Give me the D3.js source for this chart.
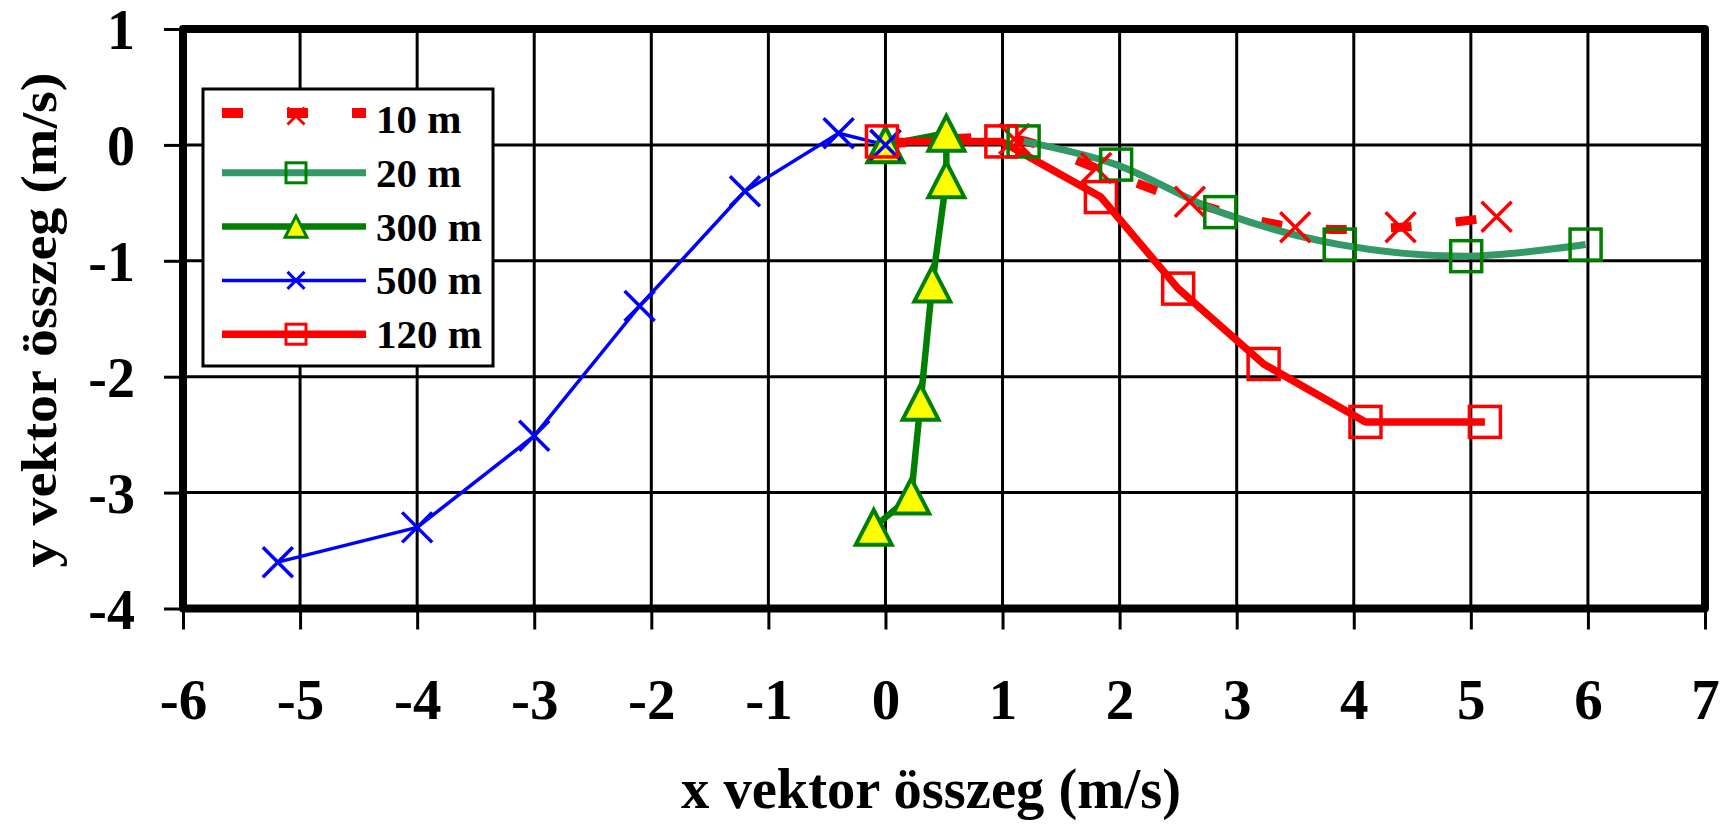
<!DOCTYPE html>
<html><head><meta charset="utf-8">
<script src="https://cdn.jsdelivr.net/npm/d3@7"></script>
<style>
body{margin:0;background:#fff}
svg{display:block}
text{font-family:"Liberation Serif","Times New Roman",serif;font-weight:bold;fill:#000}
</style>
</head><body>
<svg id="chart" width="1727" height="831"></svg>
<script>
// ---- data ----
const seriesNames = ["10 m", "20 m", "300 m", "500 m", "120 m"];
const xTickValues = [-6, -5, -4, -3, -2, -1, 0, 1, 2, 3, 4, 5, 6, 7];
const yTickValues = [-4, -3, -2, -1, 0, 1];
const xTitle = "x vektor összeg (m/s)";
const yTitle = "y vektor összeg (m/s)";

const x10 = [0, 1.1, 1.8, 2.6, 3.5, 4.4, 5.22];
const y10 = [0, 0.05, -0.2, -0.49, -0.71, -0.71, -0.62];
const x20 = [1.18, 1.97, 2.86, 3.88, 4.96, 5.98];
const y20 = [0.03, -0.17, -0.58, -0.86, -0.96, -0.86];
const x300 = [0, 0.52, 0.52, 0.4, 0.3, 0.22, -0.1];
const y300 = [0, 0.1, -0.3, -1.2, -2.22, -3.03, -3.3];
const x500 = [-5.19, -4.0, -3.0, -2.1, -1.2, -0.4, 0];
const y500 = [-3.6, -3.3, -2.51, -1.39, -0.4, 0.1, 0];
const x120 = [-0.03, 0.99, 1.84, 2.5, 3.23, 4.1, 5.12];
const y120 = [0.03, 0.03, -0.45, -1.24, -1.89, -2.39, -2.39];

// ---- styles ----
const styles = [
  {xs: x10,  ys: y10,  color: "#ff0000", width: 9,   dash: "21,44", marker: "x",   mColor: "#ff0000", fill: "none", smooth: true},
  {xs: x20,  ys: y20,  color: "#339966", width: 7,   dash: null,    marker: "sq",  mColor: "#008000", fill: "none", smooth: true},
  {xs: x300, ys: y300, color: "#008000", width: 6.5, dash: null,    marker: "tri", mColor: "#008000", fill: "#ffff00", smooth: false},
  {xs: x500, ys: y500, color: "#0000ff", width: 3.5, dash: null,    marker: "x",   mColor: "#0000ff", fill: "none", smooth: false},
  {xs: x120, ys: y120, color: "#ff0000", width: 7.5, dash: null,    marker: "sq",  mColor: "#ff0000", fill: "none", smooth: false}
];

const svg = d3.select("#chart");
svg.append("rect").attr("width", 1727).attr("height", 831).attr("fill", "#fff");

const L = 183, R = 1705, T = 29, B = 608.5;
const x = d3.scaleLinear().domain([-6, 7]).range([L, R]);
const y = d3.scaleLinear().domain([-4, 1]).range([B, T]);

// gridlines
const grid = svg.append("g");
grid.selectAll(".vg").data(xTickValues).join("line")
  .attr("x1", d => x(d)).attr("x2", d => x(d)).attr("y1", T).attr("y2", B)
  .attr("stroke", "#000").attr("stroke-width", 3);
grid.selectAll(".hg").data(yTickValues).join("line")
  .attr("x1", L).attr("x2", R).attr("y1", d => y(d)).attr("y2", d => y(d))
  .attr("stroke", "#000").attr("stroke-width", 3);

// axes
const xAxis = svg.append("g").attr("transform", `translate(0,${B})`)
  .call(d3.axisBottom(x).tickValues(xTickValues).tickSize(21).tickFormat(d => String(d)));
xAxis.select(".domain").remove();
xAxis.selectAll(".tick line").attr("stroke", "#000").attr("stroke-width", 3);
xAxis.selectAll(".tick text").attr("y", 110.5).attr("dy", 0)
  .style("font-size", "57px").style("font-family", '"Liberation Serif","Times New Roman",serif')
  .style("font-weight", "bold").attr("fill", "#000");

const yAxis = svg.append("g").attr("transform", `translate(${L},0)`)
  .call(d3.axisLeft(y).tickValues(yTickValues).tickSize(19).tickFormat(d => String(d)));
yAxis.select(".domain").remove();
yAxis.selectAll(".tick line").attr("stroke", "#000").attr("stroke-width", 3);
yAxis.selectAll(".tick text").attr("x", -48).attr("dy", "0.35em")
  .style("font-size", "56px").style("font-family", '"Liberation Serif","Times New Roman",serif')
  .style("font-weight", "bold").attr("fill", "#000");

// plot border
svg.append("rect").attr("x", L).attr("y", T).attr("width", R - L).attr("height", B - T)
  .attr("fill", "none").attr("stroke", "#000").attr("stroke-width", 8).attr("stroke-linejoin", "round");

// series lines
const plot = svg.append("g");
styles.forEach(s => {
  const pts = s.xs.map((v, i) => [v, s.ys[i]]);
  const line = d3.line().x(d => x(d[0])).y(d => y(d[1]))
    .curve(s.smooth ? d3.curveCatmullRom.alpha(0.5) : d3.curveLinear);
  plot.append("path").attr("d", line(pts)).attr("fill", "none")
    .attr("stroke", s.color).attr("stroke-width", s.width)
    .attr("stroke-dasharray", s.dash).attr("stroke-linejoin", "round");
});

function drawMarker(g, type, cx, cy, size, color, fill, sw) {
  if (type === "sq") {
    g.append("rect").attr("x", cx - size / 2).attr("y", cy - size / 2)
      .attr("width", size).attr("height", size)
      .attr("fill", fill).attr("stroke", color).attr("stroke-width", sw);
  } else if (type === "tri") {
    const w = size, h = size * 0.97;
    g.append("path").attr("d", `M${cx},${cy - h / 2}L${cx + w / 2},${cy + h / 2}L${cx - w / 2},${cy + h / 2}Z`)
      .attr("fill", fill).attr("stroke", color).attr("stroke-width", sw).attr("stroke-linejoin", "miter");
  } else {
    const r = size / 2;
    g.append("path").attr("d", `M${cx - r},${cy - r}L${cx + r},${cy + r}M${cx + r},${cy - r}L${cx - r},${cy + r}`)
      .attr("stroke", color).attr("stroke-width", sw).attr("fill", "none");
  }
}

// markers
styles.forEach(s => {
  const size = s.marker === "sq" ? 31 : (s.marker === "tri" ? 36 : 30);
  s.xs.forEach((v, i) => drawMarker(plot, s.marker, x(v), y(s.ys[i]), size, s.mColor, s.fill, s.marker === "tri" ? 4 : 3.5));
});

// legend
const lg = svg.append("g");
lg.append("rect").attr("x", 203).attr("y", 89).attr("width", 290).attr("height", 277)
  .attr("fill", "#fff").attr("stroke", "#000").attr("stroke-width", 3);
seriesNames.forEach((name, i) => {
  const s = styles[i];
  const base = 133 + i * 53.8;
  const ly = base - 14 - (i === 0 ? 6 : 0);
  lg.append("line").attr("x1", 222).attr("x2", 366).attr("y1", ly).attr("y2", ly)
    .attr("stroke", s.color).attr("stroke-width", i === 0 ? 10 : s.width)
    .attr("stroke-dasharray", s.dash);
  const msize = s.marker === "sq" ? 20 : (s.marker === "tri" ? 22 : 17);
  drawMarker(lg, s.marker, 296, ly + (i === 0 ? 3 : 0), msize, s.mColor, s.fill, 3);
  lg.append("text").attr("x", 376).attr("y", base).style("font-size", "41px").text(name);
});

// axis titles
svg.append("text").attr("x", 931).attr("y", 808).attr("text-anchor", "middle")
  .attr("textLength", 500).attr("lengthAdjust", "spacingAndGlyphs")
  .style("font-size", "58px").text(xTitle);
svg.append("text").attr("transform", "translate(56,320) rotate(-90)").attr("text-anchor", "middle")
  .attr("textLength", 495).attr("lengthAdjust", "spacingAndGlyphs")
  .style("font-size", "50px").text(yTitle);
</script>
</body></html>
